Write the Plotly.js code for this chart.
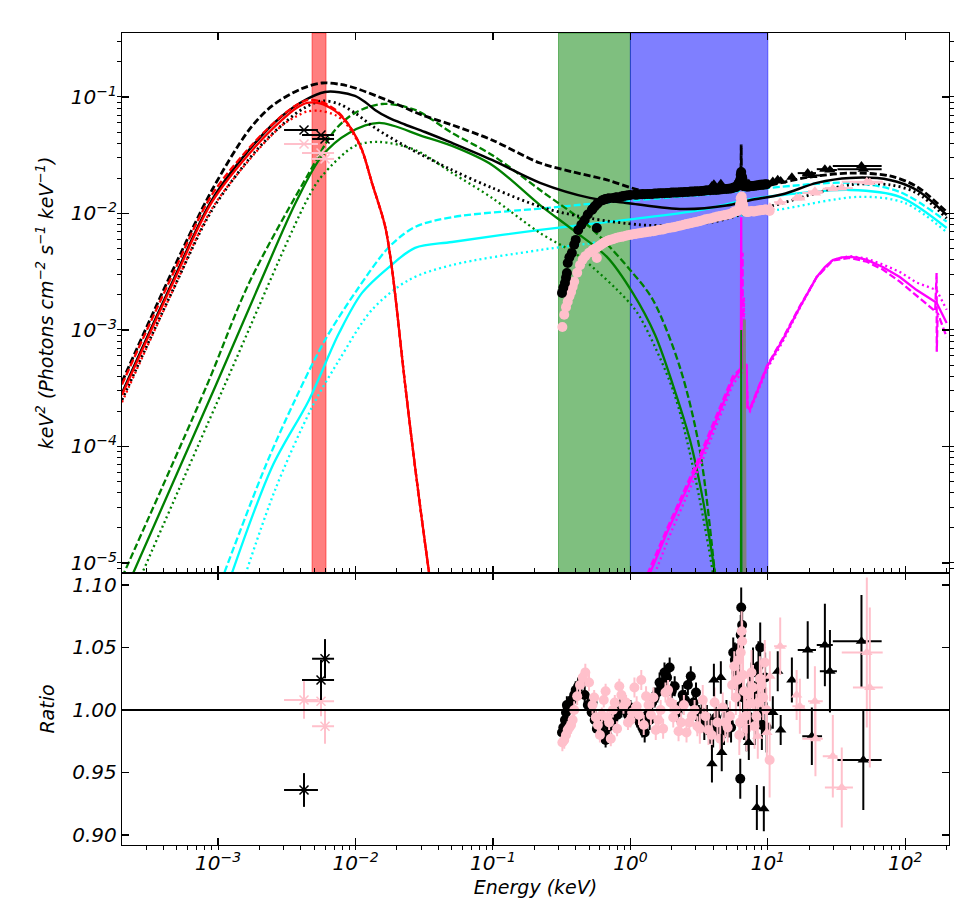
<!DOCTYPE html>
<html><head><meta charset="utf-8">
<script src="https://cdn.plot.ly/plotly-3.0.1.min.js"></script>
<style>html,body{margin:0;padding:0;background:#fff}#plot{width:977px;height:919px}</style>
</head><body><div id="plot"></div>
<script>
// ---------- model curves (energy keV, keV^2 flux) ----------
const E_RED = [2.0e-4, 4.62e-4, 9.04e-4, 1.86e-3, 2.92e-3, 3.7e-3, 4.44e-3, 5.5e-3, 7.10e-3, 8.2e-3, 9.44e-3, 0.01115, 0.01318, 0.0164, 0.0184, 0.0229, 0.0271, 0.0343, 0.0367];
const F_RED_SOLID = [2.77e-4, 2.43e-3, 0.01256, 0.0372, 0.0635, 0.080, 0.0888, 0.088, 0.0759, 0.065, 0.0521, 0.0351, 0.0183, 7.8e-3, 3.4e-3, 3.5e-4, 6.7e-5, 8.2e-6, 4.8e-6];
const F_RED_DASH  = [3.4e-4, 2.9e-3, 0.0145, 0.0415, 0.069, 0.085, 0.094, 0.092, 0.078, 0.066, 0.052, 0.0351, 0.0183, 7.8e-3, 3.4e-3, 3.5e-4, 6.7e-5, 8.2e-6, 4.8e-6];
const F_RED_DOT   = [2.4e-4, 2.1e-3, 0.011, 0.033, 0.057, 0.068, 0.075, 0.076, 0.070, 0.062, 0.050, 0.0345, 0.0181, 7.7e-3, 3.4e-3, 3.5e-4, 6.7e-5, 8.2e-6, 4.8e-6];

const E_GRN_SOLID = [2.2e-4, 9.51e-4, 1.99e-3, 3.76e-3, 5.71e-3, 8.97e-3, 0.01483, 0.0305, 0.0504, 0.0984, 0.220, 0.382, 0.675, 1.04, 1.51, 2.04, 2.71, 3.37, 4.12, 4.40];
const F_GRN_SOLID = [6.4e-6, 3.24e-4, 2.43e-3, 0.0131, 0.0312, 0.0491, 0.0598, 0.0462, 0.038, 0.0261, 0.0118, 0.00722, 0.00424, 0.00208, 9.1e-4, 3.37e-4, 1.14e-4, 3.48e-5, 8.2e-6, 4.8e-6];
const E_GRN_DASH = [2.0e-4, 8.31e-4, 1.68e-3, 4.59e-3, 7.10e-3, 9.91e-3, 0.0156, 0.0271, 0.0504, 0.0984, 0.220, 0.507, 1.04, 1.46, 2.29, 3.20, 4.12, 4.33];
const F_GRN_DASH = [7.5e-6, 3.37e-4, 2.53e-3, 0.0223, 0.0521, 0.0729, 0.087, 0.0774, 0.0491, 0.0318, 0.0159, 0.00765, 0.00308, 0.00181, 4.8e-4, 9.3e-5, 8.2e-6, 4.8e-6];
const E_GRN_DOT = [2.66e-4, 1.11e-3, 4.44e-3, 5.71e-3, 9.91e-3, 0.01483, 0.0271, 0.0504, 0.0984, 0.220, 0.43, 0.944, 1.17, 2.04, 2.85, 3.98, 4.19];
const F_GRN_DOT = [7.1e-6, 3.3e-4, 0.0131, 0.021, 0.038, 0.0411, 0.0351, 0.0223, 0.0136, 0.0068, 0.00424, 0.00181, 0.0013, 3.05e-4, 6.7e-5, 8.2e-6, 4.8e-6];

const E_CYN_SOLID = [1.2e-3, 2.47e-3, 4.59e-3, 7.59e-3, 0.01115, 0.01754, 0.0271, 0.0504, 0.220, 1.0, 3.2, 7.03, 12.8, 39.5, 91.2, 200];
const F_CYN_SOLID = [6.9e-6, 6.67e-5, 2.51e-4, 9.4e-4, 2.08e-3, 3.47e-3, 5.06e-3, 5.69e-3, 7.22e-3, 8.9e-3, 0.0107, 0.0131, 0.0144, 0.0159, 0.0139, 0.0075];
const E_CYN_DASH = [1.05e-3, 2.20e-3, 3.63e-3, 6.0e-3, 9.91e-3, 0.01754, 0.0271, 0.0504, 0.239, 0.6, 3.2, 10.35, 39.5, 91.2, 200];
const F_CYN_DASH = [6.9e-6, 6.67e-5, 2.51e-4, 8.2e-4, 2.08e-3, 5.15e-3, 7.65e-3, 9.3e-3, 0.0111, 0.0123, 0.0144, 0.0166, 0.0183, 0.0153, 0.0085];
const E_CYN_DOT = [1.5e-3, 2.6e-3, 4.83e-3, 7.59e-3, 0.01318, 0.0245, 0.0504, 0.220, 0.58, 3.2, 11.6, 46.7, 99.1, 200];
const F_CYN_DOT = [6.6e-6, 4.24e-5, 2.18e-4, 5.5e-4, 1.49e-3, 2.69e-3, 3.61e-3, 4.86e-3, 5.69e-3, 8.45e-3, 0.0107, 0.0139, 0.0123, 6.9e-3];

const E_MAG_SOLID = [1.32, 1.39, 1.84, 3.20, 5.56, 6.2, 6.35, 6.38, 6.40, 6.42, 6.45, 6.6, 7.0, 7.1, 7.4, 9.84, 12.8, 17.1, 22.7, 26.0, 29.7, 34.5, 39.5, 45.0, 52.5, 68.6, 91.2, 121, 169, 200];
const F_MAG_SOLID = [6.6e-6, 8.2e-6, 1.81e-5, 7.66e-5, 3.72e-4, 4.4e-4, 4.6e-4, 1.5e-3, 9.3e-3, 1.5e-3, 4.7e-4, 4.8e-4, 5.0e-4, 2.2e-4, 2.06e-4, 4.8e-4, 8.2e-4, 1.57e-3, 2.85e-3, 3.47e-3, 3.99e-3, 4.2e-3, 4.24e-3, 4.17e-3, 3.99e-3, 3.47e-3, 2.85e-3, 2.2e-3, 1.71e-3, 1.15e-3];
const E_MAG_DASH = [1.27, 1.34, 1.84, 3.20, 5.56, 6.3, 6.5, 6.53, 6.55, 6.57, 6.6, 7.0, 7.1, 7.4, 9.84, 12.8, 17.1, 22.7, 29.7, 39.5, 52.5, 68.6, 91.2, 121, 165, 169, 169.5, 172, 200];
const F_MAG_DASH = [6.6e-6, 8.2e-6, 1.95e-5, 8.3e-5, 4.0e-4, 4.6e-4, 4.8e-4, 1.2e-3, 4.6e-3, 1.2e-3, 4.8e-4, 5.1e-4, 2.2e-4, 2.1e-4, 4.9e-4, 8.4e-4, 1.6e-3, 2.85e-3, 3.95e-3, 4.15e-3, 3.85e-3, 3.3e-3, 2.6e-3, 1.95e-3, 1.45e-3, 3.08e-3, 6.5e-4, 1.4e-3, 8.7e-4];
const E_MAG_DOT = [1.45, 1.51, 2.0, 3.4, 5.56, 6.5, 6.65, 6.68, 6.70, 6.72, 6.75, 7.0, 7.1, 7.4, 9.84, 12.8, 17.1, 22.7, 29.7, 39.5, 52.5, 68.6, 91.2, 121, 169, 200];
const F_MAG_DOT = [6.6e-6, 8.2e-6, 1.9e-5, 8.0e-5, 3.4e-4, 4.3e-4, 4.5e-4, 9e-4, 1.92e-3, 9e-4, 4.5e-4, 4.7e-4, 2.1e-4, 2.0e-4, 4.6e-4, 7.9e-4, 1.55e-3, 2.85e-3, 4.0e-3, 4.3e-3, 4.1e-3, 3.65e-3, 3.15e-3, 2.55e-3, 2.2e-3, 1.49e-3];

const E_GAUSS_GRN = [6.33, 6.38, 6.40, 6.42, 6.47];
const F_GAUSS_GRN = [1e-7, 5e-5, 1.0e-3, 5e-5, 1e-7];
const E_GAUSS_GRY = [6.62, 6.72, 6.75, 6.78, 6.88];
const F_GAUSS_GRY = [1e-7, 6e-5, 1.23e-3, 6e-5, 1e-7];

const E_BLK_SOLID = [2.0e-4, 4.62e-4, 9.04e-4, 1.86e-3, 2.92e-3, 4.30e-3, 6.00e-3, 7.6e-3, 9.91e-3, 0.0118, 0.01387, 0.0175, 0.0229, 0.0320, 0.0504, 0.0984, 0.220, 0.507, 1.0, 2.41, 5.0, 7.40, 12.8, 22.7, 39.5, 77.1, 121, 200];
const F_BLK_SOLID = [2.88e-4, 2.53e-3, 0.0131, 0.0403, 0.0687, 0.0942, 0.1104, 0.110, 0.102, 0.090, 0.0774, 0.0660, 0.0580, 0.0500, 0.0403, 0.0288, 0.0183, 0.0136, 0.0122, 0.0109, 0.0117, 0.0130, 0.0146, 0.0183, 0.0202, 0.0194, 0.0159, 0.0097];
const E_BLK_DASH = [2.0e-4, 4.62e-4, 9.04e-4, 1.68e-3, 2.47e-3, 4.0e-3, 5.71e-3, 7.8e-3, 9.91e-3, 0.01754, 0.0305, 0.0504, 0.0984, 0.220, 0.382, 0.675, 1.17, 2.41, 5.0, 7.0, 10.35, 20, 40, 77.1, 121, 200];
const F_BLK_DASH = [3.58e-4, 3.15e-3, 0.0159, 0.0521, 0.0838, 0.117, 0.1318, 0.128, 0.1194, 0.0924, 0.070, 0.0575, 0.0427, 0.0271, 0.0227, 0.0194, 0.0159, 0.0148, 0.0155, 0.0162, 0.0175, 0.0205, 0.0222, 0.0210, 0.0170, 0.0103];
const E_BLK_DASH_LINE = [6.36, 6.40, 6.44];
const F_BLK_DASH_LINE = [0.0158, 0.039, 0.0158];
const E_BLK_DOT = [2.0e-4, 4.62e-4, 9.04e-4, 1.86e-3, 2.92e-3, 4.2e-3, 5.71e-3, 7.6e-3, 9.91e-3, 0.01387, 0.0229, 0.0504, 0.0984, 0.239, 0.507, 1.17, 2.0, 4.0, 7.4, 12.8, 22.7, 39.5, 77.1, 121, 200];
const F_BLK_DOT = [2.51e-4, 2.12e-3, 0.0107, 0.0338, 0.0575, 0.080, 0.0924, 0.087, 0.0729, 0.0542, 0.038, 0.0236, 0.0166, 0.0111, 0.0091, 0.0080, 0.0079, 0.00845, 0.0103, 0.0123, 0.0150, 0.0176, 0.0176, 0.0150, 0.0091];

// ---------- data ----------
const XMM_BLK_E = [0.318, 0.325, 0.334, 0.340, 0.345, 0.350, 0.360, 0.375, 0.39, 0.40, 0.417, 0.44, 0.465, 0.49,
  0.524, 0.55, 0.58, 0.62, 0.66, 0.70, 0.75, 0.80, 0.86, 0.92, 1.00,
  1.08, 1.17, 1.27, 1.38, 1.50, 1.63, 1.77, 1.93, 2.10, 2.30, 2.50, 2.75, 3.00,
  3.30, 3.60, 4.00, 4.40, 4.80, 5.20, 5.60, 5.90,
  6.10, 6.30, 6.40, 6.50, 6.70,
  7.00, 7.40, 7.80, 8.30, 8.80, 9.30, 9.80];
const XMM_BLK_F = [2.08e-3, 2.3e-3, 2.53e-3, 2.8e-3, 3.08e-3, 3.76e-3, 4.2e-3, 4.58e-3, 5.4e-3, 5.93e-3, 7.2e-3, 8.0e-3, 8.8e-3, 9.8e-3,
  0.0107, 0.0115, 0.0123, 0.0129, 0.0133, 0.0135, 0.0136, 0.0138, 0.0140, 0.0142, 0.0144,
  0.0145, 0.0146, 0.0146, 0.0147, 0.0148, 0.0149, 0.0149, 0.0150, 0.0151, 0.0152, 0.0153, 0.0154, 0.0155,
  0.0156, 0.0158, 0.0159, 0.0160, 0.0162, 0.0163, 0.0166, 0.0170,
  0.0180, 0.0195, 0.0227, 0.0205, 0.0175,
  0.0170, 0.0171, 0.0172, 0.0174, 0.0176, 0.0177, 0.0178];
const XMM_BLK_R = [0.982, 0.986, 0.992, 0.998, 1.004, 1.002, 1.004, 1.008, 1.012, 1.016, 1.019, 1.022, 1.012, 1.004,
  0.998, 0.992, 0.988, 0.982, 0.976, 0.987, 0.992, 0.996, 1.000, 1.003, 1.002,
  0.998, 0.990, 0.982, 0.992, 1.010, 1.022, 1.030, 1.034, 1.019, 1.003, 1.008, 1.027, 1.014,
  0.998, 0.992, 0.982, 0.988, 0.984, 0.990, 1.046, 1.030,
  1.019, 0.945, 1.082, 1.068, 0.992,
  0.987, 1.008, 1.030, 1.012, 1.050, 1.000, 0.986];
const XMM_BLK_RERR = [0.007, 0.007, 0.007, 0.007, 0.007, 0.007, 0.007, 0.007, 0.007, 0.007, 0.007, 0.007, 0.007, 0.007,
  0.006, 0.006, 0.006, 0.006, 0.006, 0.006, 0.006, 0.006, 0.006, 0.006, 0.006,
  0.008, 0.008, 0.008, 0.008, 0.008, 0.008, 0.008, 0.008, 0.008, 0.008, 0.008, 0.008, 0.008,
  0.012, 0.012, 0.012, 0.012, 0.012, 0.012, 0.012, 0.012,
  0.016, 0.016, 0.016, 0.016, 0.016,
  0.020, 0.020, 0.020, 0.020, 0.020, 0.020, 0.020];
// second group of black pn bins
const XMM_BLK2_E = [0.53, 0.57, 0.64, 0.68, 0.78, 0.89, 0.96, 1.12, 1.22, 1.33, 1.44, 1.57, 1.70, 1.85, 2.0, 2.2, 2.4, 2.62, 2.88, 3.15, 3.45, 3.8, 4.2, 4.6, 5.0, 5.4, 5.75, 6.2, 6.35, 6.6, 7.2, 7.6, 8.05, 8.55, 9.05, 9.55];
const XMM_BLK2_F = [0.0109, 0.0120, 0.0131, 0.0134, 0.0137, 0.0141, 0.0143, 0.0145, 0.0146, 0.0147, 0.0147, 0.0148, 0.0149, 0.0150, 0.0151, 0.0151, 0.0152, 0.0153, 0.0154, 0.0155, 0.0157, 0.0158, 0.0159, 0.0161, 0.0162, 0.0164, 0.0168, 0.0185, 0.0215, 0.0190, 0.0170, 0.0172, 0.0173, 0.0175, 0.0176, 0.0177];
const XMM_BLK2_R = [1.006, 0.985, 0.990, 0.980, 0.998, 1.006, 0.996, 0.994, 0.986, 0.996, 1.006, 1.014, 1.020, 1.026, 1.015, 0.998, 1.012, 1.020, 1.006, 0.994, 0.988, 0.985, 0.994, 0.980, 0.996, 0.986, 1.040, 1.050, 1.060, 1.010, 0.995, 1.020, 0.990, 1.035, 0.988, 1.026];
const XMM_BLK2_RERR = [0.006, 0.006, 0.006, 0.006, 0.006, 0.006, 0.006, 0.008, 0.008, 0.008, 0.008, 0.008, 0.008, 0.008, 0.008, 0.008, 0.008, 0.008, 0.008, 0.010, 0.012, 0.012, 0.012, 0.012, 0.012, 0.012, 0.014, 0.016, 0.016, 0.016, 0.018, 0.018, 0.018, 0.020, 0.020, 0.020];
const XMM_BLK_OUT_E = [0.57];
const XMM_BLK_OUT_F = [7.5e-3];

const XMM_PNK_E = [0.32, 0.33, 0.34, 0.35, 0.36, 0.37, 0.38, 0.39, 0.41, 0.43, 0.45, 0.47, 0.50, 0.53,
  0.56, 0.60, 0.64, 0.68, 0.72, 0.77, 0.83, 0.89, 0.96, 1.03,
  1.11, 1.20, 1.30, 1.41, 1.53, 1.66, 1.80, 1.96, 2.14, 2.34, 2.56, 2.80, 3.07,
  3.36, 3.70, 4.10, 4.50, 4.90, 5.30, 5.70, 6.00,
  6.20, 6.35, 6.45, 6.60, 6.85,
  7.20, 7.60, 8.00, 8.50, 9.00, 9.50, 10.3];
const XMM_PNK_F = [1.06e-3, 1.35e-3, 1.57e-3, 1.75e-3, 1.95e-3, 2.12e-3, 2.35e-3, 2.6e-3, 3.1e-3, 3.6e-3, 4.0e-3, 4.3e-3, 4.6e-3, 4.85e-3,
  5.0e-3, 5.3e-3, 5.6e-3, 5.8e-3, 5.95e-3, 6.1e-3, 6.25e-3, 6.35e-3, 6.5e-3, 6.6e-3,
  6.7e-3, 6.8e-3, 6.9e-3, 7.0e-3, 7.1e-3, 7.25e-3, 7.4e-3, 7.55e-3, 7.7e-3, 7.9e-3, 8.1e-3, 8.3e-3, 8.5e-3,
  8.75e-3, 9.0e-3, 9.3e-3, 9.5e-3, 9.7e-3, 9.9e-3, 0.0104, 0.0105,
  0.0110, 0.0135, 0.0140, 0.0120, 0.0104,
  0.0103, 0.0105, 0.0104, 0.0106, 0.0107, 0.0108, 0.0105];
const XMM_PNK_R = [0.974, 0.976, 0.980, 0.984, 0.986, 0.988, 0.992, 1.000, 1.011, 1.020, 1.026, 1.030, 1.022, 1.004,
  0.994, 0.980, 1.008, 0.994, 0.977, 1.006, 1.019, 1.003, 0.990, 0.998,
  1.003, 1.024, 1.011, 0.996, 0.984, 1.000, 1.014, 1.006, 1.000, 0.990, 0.982, 0.995, 0.987,
  1.008, 0.984, 1.006, 0.977, 0.990, 0.995, 1.035, 1.024,
  0.980, 1.046, 1.063, 1.028, 0.995,
  1.012, 1.030, 0.987, 1.006, 1.020, 1.038, 0.960];
const XMM_PNK_RERR = [0.007, 0.007, 0.007, 0.007, 0.007, 0.007, 0.007, 0.007, 0.007, 0.007, 0.007, 0.007, 0.007, 0.007,
  0.006, 0.006, 0.006, 0.006, 0.006, 0.006, 0.006, 0.006, 0.006, 0.006,
  0.008, 0.008, 0.008, 0.008, 0.008, 0.008, 0.008, 0.008, 0.008, 0.008, 0.008, 0.008, 0.008,
  0.012, 0.012, 0.012, 0.012, 0.012, 0.012, 0.012, 0.012,
  0.016, 0.016, 0.016, 0.016, 0.016,
  0.018, 0.018, 0.018, 0.018, 0.018, 0.018, 0.030];
// second group of pink pn bins
const XMM_PNK2_E = [0.545, 0.58, 0.62, 0.66, 0.70, 0.745, 0.80, 0.86, 0.93, 1.0, 1.07, 1.155, 1.25, 1.355, 1.47, 1.595, 1.73, 1.88, 2.05, 2.24, 2.45, 2.68, 2.93, 3.2, 3.52, 3.9, 4.3, 4.7, 5.1, 5.5, 5.85, 6.1, 6.28, 6.5, 6.72, 7.0, 7.4, 7.8, 8.25, 8.75, 9.25, 9.75];
const XMM_PNK2_F = [4.95e-3, 5.15e-3, 5.45e-3, 5.7e-3, 5.9e-3, 6.0e-3, 6.2e-3, 6.3e-3, 6.45e-3, 6.55e-3, 6.65e-3, 6.75e-3, 6.85e-3, 6.95e-3, 7.05e-3, 7.2e-3, 7.3e-3, 7.5e-3, 7.6e-3, 7.8e-3, 8.0e-3, 8.2e-3, 8.4e-3, 8.6e-3, 8.9e-3, 9.1e-3, 9.4e-3, 9.6e-3, 9.8e-3, 0.0101, 0.0104, 0.0107, 0.0120, 0.0130, 0.0110, 0.0103, 0.0104, 0.0104, 0.0105, 0.0106, 0.0107, 0.0108];
const XMM_PNK2_R = [1.010, 0.988, 0.996, 1.015, 0.990, 1.000, 0.985, 1.012, 1.006, 0.992, 1.018, 0.996, 0.988, 1.004, 1.010, 0.992, 0.985, 1.016, 0.994, 0.983, 1.004, 0.990, 1.000, 0.985, 0.995, 0.980, 0.990, 1.002, 0.986, 1.020, 1.010, 1.040, 0.990, 1.055, 1.015, 0.985, 1.005, 1.018, 0.995, 1.025, 1.010, 1.000];
const XMM_PNK2_RERR = [0.006, 0.006, 0.006, 0.006, 0.006, 0.006, 0.006, 0.006, 0.006, 0.006, 0.008, 0.008, 0.008, 0.008, 0.008, 0.008, 0.008, 0.008, 0.008, 0.008, 0.008, 0.008, 0.008, 0.012, 0.012, 0.012, 0.012, 0.012, 0.012, 0.012, 0.014, 0.016, 0.016, 0.016, 0.016, 0.018, 0.018, 0.018, 0.018, 0.018, 0.018, 0.018];
const XMM_PNK_OUT_E = [0.57];
const XMM_PNK_OUT_F = [4.15e-3];

const NU_BLK_E = [3.92, 4.05, 4.55, 4.62, 7.27, 8.32, 9.35, 10.87, 11.8, 12.4, 14.96, 19.5, 20.9, 26.0, 28.3, 48.0, 49.5];
const NU_BLK_F = [0.0172, 0.0178, 0.0180, 0.0170, 0.0180, 0.0172, 0.0174, 0.0188, 0.0195, 0.0190, 0.0205, 0.0222, 0.0212, 0.0240, 0.0236, 0.0255, 0.0240];
const NU_BLK_R = [0.957, 1.024, 1.026, 0.966, 0.974, 0.922, 0.921, 0.998, 1.031, 0.984, 1.024, 1.048, 0.979, 1.052, 1.031, 1.055, 0.960];
const NU_BLK_RERR = [0.015, 0.013, 0.013, 0.015, 0.014, 0.018, 0.018, 0.013, 0.016, 0.012, 0.018, 0.023, 0.023, 0.033, 0.033, 0.037, 0.040];
const NU_BLK_XP = [0.12, 0.12, 0.14, 0.14, 0.25, 0.3, 0.35, 0.4, 0.45, 0.5, 0.8, 2.9, 3.9, 3.7, 3.5, 19.3, 17.8];
const NU_BLK_XM = [0.12, 0.12, 0.14, 0.14, 0.25, 0.3, 0.35, 0.4, 0.45, 0.5, 0.8, 3.0, 3.1, 3.3, 4.4, 18.3, 17.4];

const NU_PNK_E = [8.45, 9.84, 10.35, 12.3, 16.2, 17.1, 22.0, 22.2, 29.7, 34.5, 52.5, 55.2];
const NU_PNK_F = [0.0102, 0.0104, 0.0113, 0.0125, 0.0136, 0.0136, 0.0155, 0.0150, 0.0163, 0.0165, 0.0187, 0.0184];
const NU_PNK_R = [0.979, 0.982, 1.027, 1.051, 1.012, 1.003, 1.007, 0.977, 0.963, 0.938, 1.046, 1.018];
const NU_PNK_RERR = [0.018, 0.02, 0.02, 0.023, 0.02, 0.022, 0.028, 0.03, 0.033, 0.032, 0.06, 0.064];
const NU_PNK_XP = [0.3, 0.3, 0.3, 1.4, 0.8, 1.5, 3.1, 2.9, 2.4, 7.1, 16, 13.4];
const NU_PNK_XM = [0.3, 0.3, 0.3, 1.2, 0.8, 2.0, 2.4, 4.4, 4.6, 8.5, 18, 13.6];

const OM_E = [4.22e-3, 5.61e-3, 6.0e-3];
const OM_XM = [1.2e-3, 1.53e-3, 1.17e-3];
const OM_XP = [1.11e-3, 1.37e-3, 0.98e-3];
const OM_BLK_F = [0.0521, 0.0472, 0.0436];
const OM_PNK_F = [0.0395, 0.033, 0.0294];
const OM_BLK_R = [0.936, 1.024, 1.041];
const OM_BLK_RERR = [0.0135, 0.016, 0.0157];
const OM_PNK_R = [1.008, 1.007, 0.987];
const OM_PNK_RERR = [0.015, 0.012, 0.014];

// ---------- bands & ticks ----------
const BAND_UV = [4.83e-3, 6.10e-3];
const BAND_SOFT = [0.3, 1.0];
const BAND_HARD = [1.0, 10.0];
const X_TICKS = [1e-3, 1e-2, 1e-1, 1, 10, 100];
const X_TICKTEXT = ['10<sup>\u22123</sup>', '10<sup>\u22122</sup>', '10<sup>\u22121</sup>', '10<sup>0</sup>', '10<sup>1</sup>', '10<sup>2</sup>'];
const Y_TICKS = [1e-5, 1e-4, 1e-3, 1e-2, 1e-1];
const Y_TICKTEXT = ['10<sup>\u22125</sup>', '10<sup>\u22124</sup>', '10<sup>\u22123</sup>', '10<sup>\u22122</sup>', '10<sup>\u22121</sup>'];
const R_TICKS = [0.90, 0.95, 1.00, 1.05, 1.10];
const R_TICKTEXT = ['0.90', '0.95', '1.00', '1.05', '1.10'];

// ---------- traces ----------
const DASH = '7px,3px', DOT = '2px,3.2px';
const LW = 2.3;
const traces = [];
function curve(x, y, color, dash, shape, width) {
  traces.push({x: x, y: y, xaxis: 'x', yaxis: 'y', type: 'scatter', mode: 'lines', hoverinfo: 'skip',
    line: {color: color, width: width || LW, dash: dash, shape: shape || 'spline', smoothing: 0.9}});
}
curve(E_CYN_SOLID, F_CYN_SOLID, '#00FFFF', 'solid');
curve(E_CYN_DASH, F_CYN_DASH, '#00FFFF', DASH);
curve(E_CYN_DOT, F_CYN_DOT, '#00FFFF', DOT);
curve(E_GRN_SOLID, F_GRN_SOLID, '#008000', 'solid');
curve(E_GRN_DASH, F_GRN_DASH, '#008000', DASH);
curve(E_GRN_DOT, F_GRN_DOT, '#008000', DOT);
curve(E_MAG_SOLID, F_MAG_SOLID, '#FF00FF', 'solid', 'linear');
curve(E_MAG_DASH, F_MAG_DASH, '#FF00FF', DASH, 'linear');
curve(E_MAG_DOT, F_MAG_DOT, '#FF00FF', DOT, 'linear');
curve(E_GAUSS_GRY, F_GAUSS_GRY, '#808080', 'solid', 'linear', 3);
curve(E_GAUSS_GRN, F_GAUSS_GRN, '#008000', 'solid', 'linear', 2);
curve(E_BLK_SOLID, F_BLK_SOLID, '#000000', 'solid', 'spline', 2.5);
curve(E_BLK_DASH, F_BLK_DASH, '#000000', DASH, 'spline', 2.8);
curve(E_BLK_DASH_LINE, F_BLK_DASH_LINE, '#000000', DASH, 'linear', 2.8);
curve(E_BLK_DOT, F_BLK_DOT, '#000000', DOT, 'spline', 2.8);
curve(E_RED, F_RED_SOLID, '#FF0000', 'solid');
curve(E_RED, F_RED_DASH, '#FF0000', DASH);
curve(E_RED, F_RED_DOT, '#FF0000', DOT);

function pts(x, y, ax, ay, color, symbol, size, ex, ey) {
  const t = {x: x, y: y, xaxis: ax, yaxis: ay, type: 'scatter', mode: 'markers', hoverinfo: 'skip',
    marker: {color: color, symbol: symbol, size: size, line: {width: 0}}};
  if (ex) t.error_x = Object.assign({type: 'data', symmetric: false, color: color, thickness: 2, width: 0}, ex);
  if (ey) t.error_y = Object.assign({type: 'data', color: color, thickness: 2, width: 0}, ey);
  traces.push(t);
}
function omTrace(y, ax, ay, color, ey) {
  const t = {x: OM_E, y: y, xaxis: ax, yaxis: ay, type: 'scatter', mode: 'markers', hoverinfo: 'skip',
    marker: {symbol: 'x-thin', size: 9, color: color, line: {color: color, width: 1.5}},
    error_x: {type: 'data', symmetric: false, array: OM_XP, arrayminus: OM_XM, color: color, thickness: 2, width: 0}};
  if (ey) t.error_y = {type: 'data', array: ey, color: color, thickness: 2, width: 0};
  traces.push(t);
}
// top panel data
pts(XMM_PNK_E, XMM_PNK_F, 'x', 'y', '#FFC0CB', 'circle', 10);
pts(XMM_PNK2_E, XMM_PNK2_F, 'x', 'y', '#FFC0CB', 'circle', 10);
pts(XMM_PNK_OUT_E, XMM_PNK_OUT_F, 'x', 'y', '#FFC0CB', 'circle', 10);
pts(XMM_BLK_E, XMM_BLK_F, 'x', 'y', '#000000', 'circle', 10);
pts(XMM_BLK2_E, XMM_BLK2_F, 'x', 'y', '#000000', 'circle', 10);
pts(XMM_BLK_OUT_E, XMM_BLK_OUT_F, 'x', 'y', '#000000', 'circle', 10);
pts(NU_PNK_E, NU_PNK_F, 'x', 'y', '#FFC0CB', 'triangle-up', 10, {array: NU_PNK_XP, arrayminus: NU_PNK_XM});
pts(NU_BLK_E, NU_BLK_F, 'x', 'y', '#000000', 'triangle-up', 10, {array: NU_BLK_XP, arrayminus: NU_BLK_XM});
omTrace(OM_PNK_F, 'x', 'y', '#FFC0CB', null);
omTrace(OM_BLK_F, 'x', 'y', '#000000', null);

// ratio panel
pts(XMM_BLK_E, XMM_BLK_R, 'x2', 'y2', '#000000', 'circle', 10, null, {array: XMM_BLK_RERR});
pts(XMM_BLK2_E, XMM_BLK2_R, 'x2', 'y2', '#000000', 'circle', 10, null, {array: XMM_BLK2_RERR});
pts(XMM_PNK_E, XMM_PNK_R, 'x2', 'y2', '#FFC0CB', 'circle', 10, null, {array: XMM_PNK_RERR});
pts(XMM_PNK2_E, XMM_PNK2_R, 'x2', 'y2', '#FFC0CB', 'circle', 10, null, {array: XMM_PNK2_RERR});
pts(NU_BLK_E, NU_BLK_R, 'x2', 'y2', '#000000', 'triangle-up', 10, {array: NU_BLK_XP, arrayminus: NU_BLK_XM}, {array: NU_BLK_RERR});
pts(NU_PNK_E, NU_PNK_R, 'x2', 'y2', '#FFC0CB', 'triangle-up', 10, {array: NU_PNK_XP, arrayminus: NU_PNK_XM}, {array: NU_PNK_RERR});
omTrace(OM_PNK_R, 'x2', 'y2', '#FFC0CB', OM_PNK_RERR);
omTrace(OM_BLK_R, 'x2', 'y2', '#000000', OM_BLK_RERR);

// ---------- layout ----------
const FONT = {family: 'DejaVu Sans', size: 19, color: '#000', style: 'italic'};
const TFONT = {family: 'DejaVu Sans', size: 20, color: '#000', style: 'italic'};
const axBase = {showline: true, linecolor: '#000', linewidth: 1.2, mirror: 'ticks', ticks: 'inside',
  ticklen: 7, tickwidth: 1.2, tickcolor: '#000', showgrid: false, zeroline: false, tickfont: TFONT};
const XR = [Math.log10(2.0e-4), Math.log10(208)];
const layout = {
  width: 977, height: 919,
  margin: {l: 122, r: 28, t: 33, b: 74, pad: 0},
  paper_bgcolor: '#fff', plot_bgcolor: '#fff',
  font: FONT, showlegend: false,
  xaxis: Object.assign({}, axBase, {type: 'log', range: XR, domain: [0, 1], anchor: 'y',
    tickmode: 'array', tickvals: X_TICKS, showticklabels: false}),
  yaxis: Object.assign({}, axBase, {type: 'log', range: [-5.086, -0.451], domain: [0.335, 1], anchor: 'x',
    tickmode: 'array', tickvals: Y_TICKS, ticktext: Y_TICKTEXT,
    minor: {ticks: 'outside', ticklen: 4, tickwidth: 1, tickcolor: '#000', dtick: 'D1', showgrid: false},
    title: {text: 'keV<sup>2</sup> (Photons cm<sup>\u22122</sup> s<sup>\u22121</sup> keV<sup>\u22121</sup>)', font: FONT, standoff: 12}}),
  xaxis2: Object.assign({}, axBase, {type: 'log', range: XR, domain: [0, 1], anchor: 'y2',
    tickmode: 'array', tickvals: X_TICKS, ticktext: X_TICKTEXT,
    minor: {ticks: 'outside', ticklen: 4, tickwidth: 1, tickcolor: '#000', dtick: 'D1', showgrid: false},
    title: {text: 'Energy (keV)', font: FONT, standoff: 6}}),
  yaxis2: Object.assign({}, axBase, {range: [0.892, 1.1096], domain: [0, 0.335], anchor: 'x2',
    tickmode: 'array', tickvals: R_TICKS, ticktext: R_TICKTEXT,
    title: {text: 'Ratio', font: FONT, standoff: 12}}),
  shapes: [
    {type: 'rect', xref: 'x', yref: 'y domain', x0: BAND_UV[0], x1: BAND_UV[1], y0: 0, y1: 1, layer: 'below',
      fillcolor: 'rgba(255,0,0,0.5)', line: {color: 'rgba(255,0,0,0.5)', width: 1}},
    {type: 'rect', xref: 'x', yref: 'y domain', x0: BAND_SOFT[0], x1: BAND_SOFT[1], y0: 0, y1: 1, layer: 'below',
      fillcolor: 'rgba(0,128,0,0.5)', line: {color: 'rgba(0,128,0,0.5)', width: 1}},
    {type: 'rect', xref: 'x', yref: 'y domain', x0: BAND_HARD[0], x1: BAND_HARD[1], y0: 0, y1: 1, layer: 'below',
      fillcolor: 'rgba(0,0,255,0.5)', line: {color: 'rgba(0,0,255,0.5)', width: 1}},
    {type: 'line', xref: 'x2 domain', yref: 'y2', x0: 0, x1: 1, y0: 1, y1: 1, layer: 'above',
      line: {color: '#000', width: 2}}
  ]
};
Plotly.newPlot('plot', traces, layout, {displayModeBar: false, staticPlot: true});
</script></body></html>
